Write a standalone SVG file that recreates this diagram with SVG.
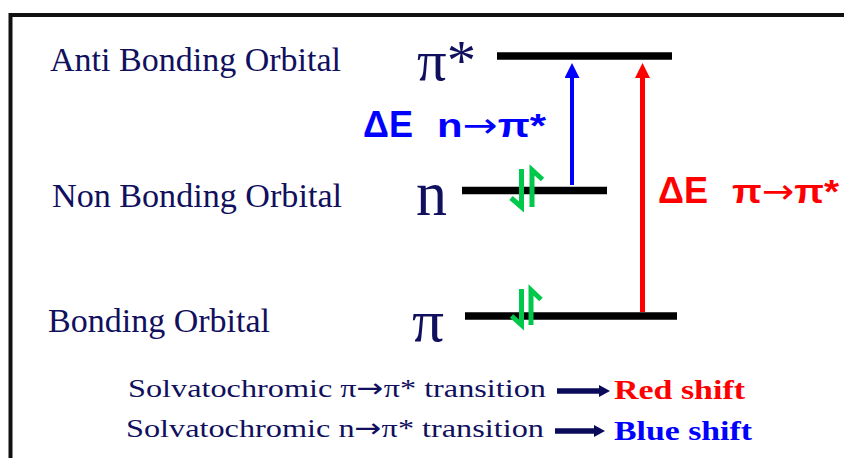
<svg xmlns="http://www.w3.org/2000/svg" width="844" height="458" viewBox="0 0 844 458">
<style>
  .lbl { font-family: "Liberation Serif", "DejaVu Serif", serif; fill: #10105e; }
  .sym { font-family: "Liberation Serif", "DejaVu Serif", serif; fill: #10105e; }
  .de { font-family: "Liberation Sans", Arial, sans-serif; font-weight: bold; }
  .arr { font-family: "DejaVu Sans", sans-serif; }
  .level { stroke: #000; stroke-width: 7.5; }
  .spin { fill: none; stroke: #00c84a; stroke-width: 5; stroke-linejoin: miter; stroke-linecap: butt; }
  .shift { font-family: "Liberation Serif", "DejaVu Serif", serif; font-weight: bold; }
</style>
<defs>
  <marker id="headBlue" markerUnits="userSpaceOnUse" markerWidth="15" markerHeight="15" viewBox="0 0 15 15" refX="0" refY="7.5" orient="auto">
    <path d="M0,0 L15,7.5 L0,15 z" fill="#0000ff"/>
  </marker>
  <marker id="headRed" markerUnits="userSpaceOnUse" markerWidth="15" markerHeight="15" viewBox="0 0 15 15" refX="0" refY="7.5" orient="auto">
    <path d="M0,0 L15,7.5 L0,15 z" fill="#ff0000"/>
  </marker>
  <marker id="headNavy" markerUnits="userSpaceOnUse" markerWidth="11" markerHeight="12" viewBox="0 0 11 12" refX="0" refY="6" orient="auto">
    <path d="M0,0 L11,6 L0,12 z" fill="#0a0a5a"/>
  </marker>
</defs>
<rect width="844" height="458" fill="#fff"/>
<path d="M10.5,462 V15 H848" fill="none" stroke="#111" stroke-width="4"/>

<g id="antibonding">
  <text class="lbl" x="50" y="71" font-size="34" textLength="291" lengthAdjust="spacingAndGlyphs">Anti Bonding Orbital</text>
  <text class="sym" x="417" y="80" font-size="58" textLength="59" lengthAdjust="spacingAndGlyphs">π*</text>
  <line class="level" x1="497" y1="56" x2="672" y2="56"/>
</g>

<g id="nonbonding">
  <text class="lbl" x="52" y="207" font-size="34" textLength="290" lengthAdjust="spacingAndGlyphs">Non Bonding Orbital</text>
  <text class="sym" x="416" y="215" font-size="64" textLength="31" lengthAdjust="spacingAndGlyphs">n</text>
  <line class="level" x1="462" y1="190.5" x2="607" y2="190.5"/>
  <path class="spin" d="M521.5,169 V207 L511,198"/>
  <path class="spin" d="M532,207 V170 L542.5,179.5"/>
</g>

<g id="bonding">
  <text class="lbl" x="48" y="332" font-size="34" textLength="222" lengthAdjust="spacingAndGlyphs">Bonding Orbital</text>
  <text class="sym" x="412" y="341" font-size="60" textLength="32" lengthAdjust="spacingAndGlyphs">π</text>
  <line class="level" x1="465" y1="316" x2="677" y2="316"/>
  <path class="spin" d="M521.5,289 V325 L511.5,316"/>
  <path class="spin" d="M531,325 V290 L541,299.5"/>
</g>

<g id="connectors">
  <line x1="572" y1="185" x2="572" y2="78" stroke="#0000ff" stroke-width="4" marker-end="url(#headBlue)"/>
  <line x1="642.5" y1="312" x2="642.5" y2="78" stroke="#ff0000" stroke-width="5" marker-end="url(#headRed)"/>
</g>

<g id="label-n-pi">
  <text class="de" x="363" y="137" font-size="36" fill="#0000ff" textLength="50" lengthAdjust="spacingAndGlyphs">ΔE</text>
  <text class="de" x="437" y="137" font-size="34" fill="#0000ff" textLength="109" lengthAdjust="spacingAndGlyphs">n<tspan class="arr" font-weight="normal">→</tspan>π*</text>
</g>

<g id="label-pi-pi">
  <text class="de" x="658" y="203" font-size="36" fill="#ff0000" textLength="50" lengthAdjust="spacingAndGlyphs">ΔE</text>
  <text class="de" x="732" y="203" font-size="34" fill="#ff0000" textLength="107" lengthAdjust="spacingAndGlyphs">π<tspan class="arr" font-weight="normal">→</tspan>π*</text>
</g>

<g id="legend-red">
  <text class="lbl" x="128" y="397" font-size="26" textLength="418" lengthAdjust="spacingAndGlyphs">Solvatochromic π<tspan class="arr">→</tspan>π* transition</text>
  <line x1="557" y1="391" x2="599" y2="391" stroke="#0a0a5a" stroke-width="5.5" marker-end="url(#headNavy)"/>
  <text class="shift" x="614" y="399" font-size="28" fill="#ff0000" textLength="131" lengthAdjust="spacingAndGlyphs">Red shift</text>
</g>

<g id="legend-blue">
  <text class="lbl" x="126" y="437" font-size="26" textLength="418" lengthAdjust="spacingAndGlyphs">Solvatochromic n<tspan class="arr">→</tspan>π* transition</text>
  <line x1="555" y1="431" x2="594" y2="431" stroke="#0a0a5a" stroke-width="5.5" marker-end="url(#headNavy)"/>
  <text class="shift" x="614" y="440" font-size="28" fill="#0000ff" textLength="138" lengthAdjust="spacingAndGlyphs">Blue shift</text>
</g>
</svg>
